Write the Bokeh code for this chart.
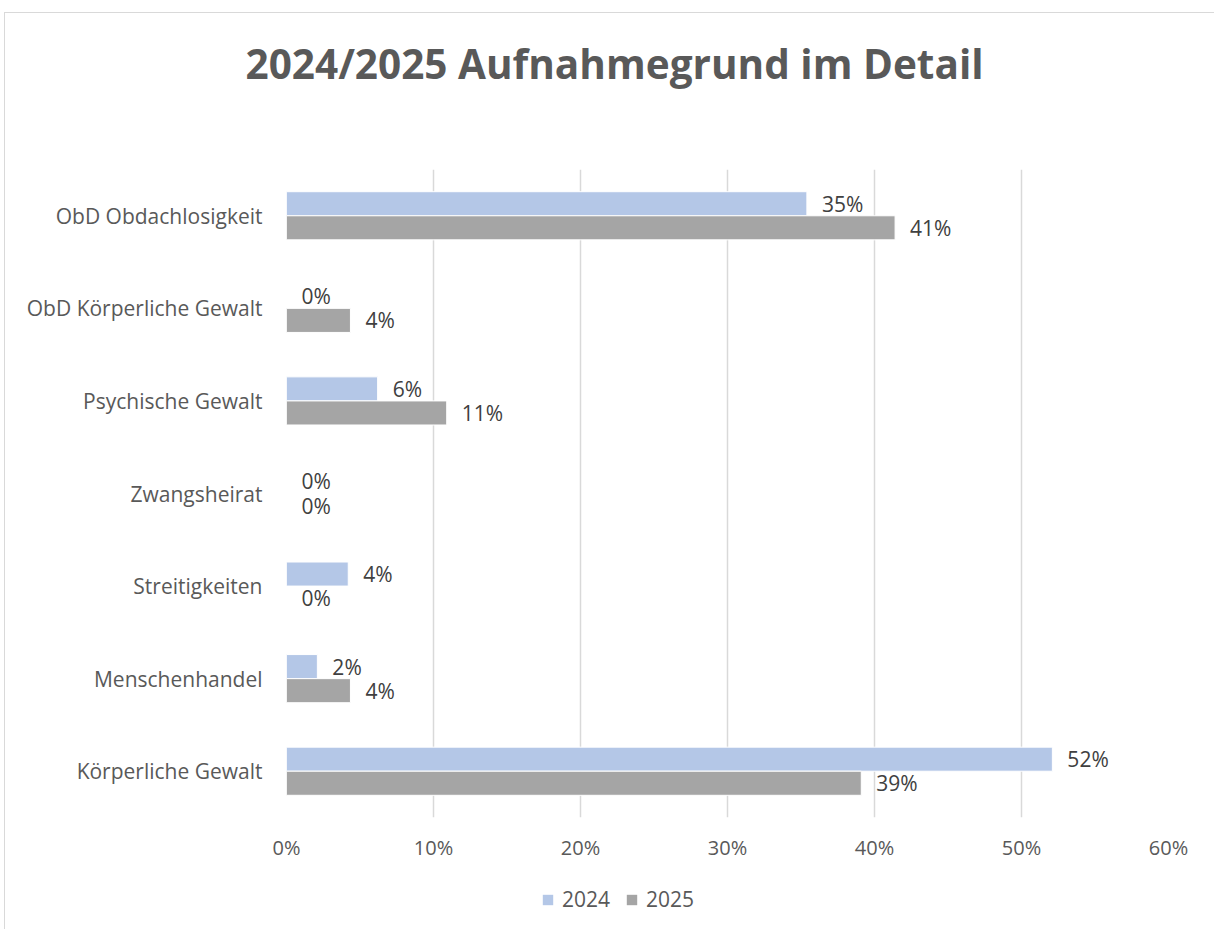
from bokeh.plotting import figure
from bokeh.layouts import column
from bokeh.models import (ColumnDataSource, FactorRange, Legend, LegendItem,
                          NumeralTickFormatter, FixedTicker, Range1d)
from bokeh.transform import dodge
from bokeh.core.properties import value
from bokeh.embed import file_html
from bokeh.resources import INLINE

categories = ["ObD Obdachlosigkeit", "ObD Körperliche Gewalt", "Psychische Gewalt",
              "Zwangsheirat", "Streitigkeiten", "Menschenhandel", "Körperliche Gewalt"]
values_2024 = [0.354, 0.0, 0.062, 0.0, 0.042, 0.021, 0.521]
values_2025 = [0.414, 0.0435, 0.109, 0.0, 0.0, 0.0435, 0.391]
x_ticks = [0, 0.1, 0.2, 0.3, 0.4, 0.5, 0.6]
series_names = ["2024", "2025"]
title_text = "2024/2025 Aufnahmegrund im Detail"

FONT = "Open Sans"
TXT = "#595959"
C24 = "#b4c7e7"
C25 = "#a5a5a5"
W = 1209

src = ColumnDataSource(dict(
    cat=categories,
    v24=values_2024,
    v25=values_2025,
    l24=[f"{round(v*100):.0f}%" for v in values_2024],
    l25=[f"{round(v*100):.0f}%" for v in values_2025],
))

# ---- title strip
t = figure(width=W, height=156, output_backend="svg", toolbar_location=None,
           x_range=Range1d(0, 1), y_range=Range1d(0, 1),
           min_border_top=77, min_border_bottom=0, min_border_left=281, min_border_right=46,
           x_axis_location=None, y_axis_location=None)
t.grid.visible = False
t.outline_line_color = None
t.title.text = title_text
t.title.text_font = FONT
t.title.text_font_size = "40.5px"
t.title.text_font_style = "bold"
t.title.text_color = TXT
t.title.align = "left"
t.title.offset = -41
t.title.standoff = 0

# ---- main chart
p = figure(width=W, height=708, output_backend="svg", toolbar_location=None, title=None,
           y_range=FactorRange(*reversed(categories)), x_range=(0, 0.6),
           min_border_left=281, min_border_right=46, min_border_top=0, min_border_bottom=60)

p.hbar(y=dodge("cat", 0.13, range=p.y_range), right="v24", left=0, height=0.26,
       source=src, fill_color=C24, line_color="#ffffff", line_width=1)
p.hbar(y=dodge("cat", -0.13, range=p.y_range), right="v25", left=0, height=0.26,
       source=src, fill_color=C25, line_color="#ffffff", line_width=1)

p.text(x="v24", y=dodge("cat", 0.13, range=p.y_range), text="l24", source=src,
       x_offset=15, text_align="left", text_baseline="middle",
       text_font=value(FONT), text_font_size="21px", text_color="#404040")
p.text(x="v25", y=dodge("cat", -0.13, range=p.y_range), text="l25", source=src,
       x_offset=15, text_align="left", text_baseline="middle",
       text_font=value(FONT), text_font_size="21px", text_color="#404040")

p.xaxis.ticker = FixedTicker(ticks=x_ticks)
p.xaxis.formatter = NumeralTickFormatter(format="0%")
for ax in (p.xaxis, p.yaxis):
    ax.axis_line_color = None
    ax.major_tick_line_color = None
    ax.minor_tick_line_color = None
    ax.major_label_text_font = FONT
    ax.major_label_text_color = TXT
p.xaxis.major_label_text_font_size = "20px"
p.yaxis.major_label_text_font_size = "21px"
p.xaxis.major_label_standoff = 10
p.yaxis.major_label_standoff = 18

p.ygrid.grid_line_color = None
p.xgrid.grid_line_color = "#d9d9d9"
p.xgrid.grid_line_width = 1.5
p.outline_line_color = None

# ---- legend strip
l = figure(width=W, height=52, output_backend="svg", toolbar_location=None, title=None,
           x_range=Range1d(0, 1), y_range=Range1d(5, 6), min_border=0,
           x_axis_location=None, y_axis_location=None)
l.grid.visible = False
l.outline_line_color = None
lr24 = l.hbar(y="v24", right="v24", left=0, height=0.01, source=src, fill_color=C24, line_color=None)
lr25 = l.hbar(y="v25", right="v25", left=0, height=0.01, source=src, fill_color=C25, line_color=None)
legend = Legend(items=[LegendItem(label=series_names[0], renderers=[lr24]),
                       LegendItem(label=series_names[1], renderers=[lr25])],
                orientation="horizontal", location=(255, 16),
                label_text_font=FONT, label_text_font_size="21px", label_text_color=TXT,
                glyph_width=13, glyph_height=13, spacing=15, label_standoff=8,
                border_line_color=None, background_fill_alpha=0, margin=0, padding=4)
l.add_layout(legend)

layout = column(t, p, l, spacing=0,
                styles={"margin-left": "4px", "margin-top": "12px",
                        "border-left": "1px solid #d9d9d9", "border-top": "1px solid #d9d9d9"})

open("out.html", "w").write(file_html(layout, INLINE))
